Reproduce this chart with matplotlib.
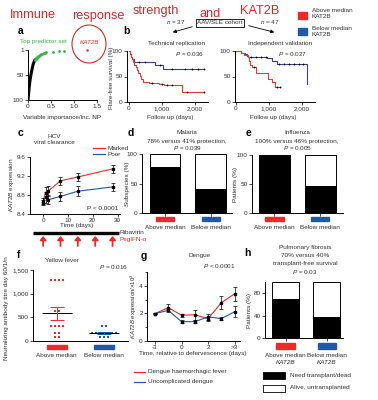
import numpy as np
import matplotlib
matplotlib.use("Agg")
import matplotlib.pyplot as plt
from matplotlib.patches import Rectangle, Ellipse, FancyArrowPatch
from matplotlib.lines import Line2D

plt.rcParams['font.family'] = ['Liberation Sans', 'DejaVu Sans']
plt.rcParams['mathtext.fontset'] = 'custom'
plt.rcParams['mathtext.it'] = 'Liberation Sans:italic'
plt.rcParams['mathtext.rm'] = 'Liberation Sans'

RED = "#ec2a2a"
BLUE = "#2358a8"
KM_RED = "#e53a33"
KM_BLUE = "#3b3f9c"
GREEN = "#35b449"
GREY = "#333333"
FS = 4.6

# ---- data ----
# a: ranked variable importance
a_top_rank = [1]
a_top_imp = [1.29]
a_green_rank = list(range(2, 21))
a_green_imp = [0.78, 0.67, 0.55, 0.40, 0.37, 0.34, 0.31, 0.29, 0.27, 0.25,
               0.24, 0.22, 0.21, 0.20, 0.19, 0.18, 0.17, 0.16, 0.15]
a_black_rank = [21, 25, 30, 38, 47, 60, 75, 90, 100]
a_black_imp = [0.145, 0.13, 0.11, 0.09, 0.07, 0.045, 0.025, 0.01, 0.0]
a_xticks = [0, 0.5, 1.0, 1.5]
a_xlabels = ["0", "0.5", "1.0", "1.5"]

# b: Kaplan-Meier, technical replication
b1_blue_t = [0, 30, 60, 100, 150, 780, 1030, 2280]
b1_blue_s = [100, 94, 89, 84, 78, 72, 65, 65]
b1_blue_cens = [300, 500, 950, 1300, 1700, 1900, 2100, 2280]
b1_red_t = [0, 30, 60, 90, 120, 160, 200, 240, 280, 320, 360, 420, 600, 900,
            1050, 1620, 2280]
b1_red_s = [100, 95, 89, 84, 78, 73, 68, 62, 57, 51, 46, 40, 37, 35, 33, 20, 20]
b1_red_cens = [700, 1000, 1150, 1300, 1750, 2280]
# b: independent validation
b2_blue_t = [0, 150, 280, 330, 380, 950, 1080, 1250, 2150]
b2_blue_s = [100, 97, 94, 91, 88, 86, 80, 74, 35]
b2_blue_cens = [450, 600, 750, 900, 1300, 1450, 1600, 1750, 1900, 2050]
b2_red_t = [0, 150, 250, 350, 400, 430, 480, 600, 980, 1080, 1180, 1330]
b2_red_s = [100, 96, 92, 88, 80, 73, 68, 56, 45, 40, 30, 30]
b2_red_cens = [550, 1250, 1330]
km_xticks = [0, 1000, 2000]
km_xlabels = ["0", "1,000", "2,000"]

# c: HCV
c_days = [0, 1, 2, 7, 14, 28]
c_marked = [8.68, 8.85, 8.88, 9.10, 9.18, 9.35]
c_marked_err = [0.06, 0.12, 0.10, 0.08, 0.08, 0.08]
c_poor = [8.64, 8.75, 8.70, 8.77, 8.88, 8.97]
c_poor_err = [0.06, 0.12, 0.10, 0.10, 0.10, 0.09]
c_dose_days = [0, 7, 14, 21, 28]
c_rbv_span = [-4, 30.5]

# d, e, h: stacked percentages
groups = ["Above median", "Below median"]
d_protected = [78, 41]
e_protected = [100, 46]
h_need = [70, 38]

# f: yellow fever titres
f_above = [1280, 1280, 1280, 1280, 640, 640, 320, 320, 320, 320, 160, 160, 80, 80]
f_below = [320, 320, 160, 160, 160, 160, 160, 160, 160, 80, 80, 80]

# g: dengue
g_cats = ["-3", "-1", "0", "1", "2", "3", ">3"]
g_dhf = [1.98, 2.42, 1.87, 1.90, 1.62, 2.78, 3.42]
g_dhf_err = [0.05, 0.25, 0.10, 0.35, 0.15, 0.45, 0.50]
g_dc = [1.98, 2.22, 1.40, 1.40, 1.75, 1.62, 2.12]
g_dc_err = [0.05, 0.12, 0.10, 0.10, 0.20, 0.10, 0.40]

W, H = 378, 400
fig = plt.figure(figsize=(W / 100, H / 100), dpi=100)


def box(l, t, r, b):
    ax = fig.add_axes([l / W, 1 - b / H, (r - l) / W, (b - t) / H])
    for s in ["top", "right"]:
        ax.spines[s].set_visible(False)
    for s in ["left", "bottom"]:
        ax.spines[s].set_linewidth(0.7)
    ax.tick_params(labelsize=FS, length=2, width=0.6, pad=1, colors=GREY)
    return ax


def txt(x, y, s, **kw):
    kw.setdefault("fontsize", FS)
    kw.setdefault("va", "center")
    kw.setdefault("color", GREY)
    fig.text(x / W, 1 - y / H, s, **kw)


def frect(x0, y0, x1, y1, **kw):
    fig.add_artist(Rectangle((x0 / W, 1 - y1 / H), (x1 - x0) / W, (y1 - y0) / H,
                             transform=fig.transFigure, **kw))


def fline(x0, x1, y, color):
    fig.add_artist(Line2D([x0 / W, x1 / W], [1 - y / H] * 2, color=color, lw=0.9,
                          transform=fig.transFigure))


def letter(x, y, s):
    txt(x, y, s, fontsize=7.5, fontweight="bold", color="black")


# ---- handwritten title ----
for word, x, y in [("Immune", 10, 15), ("response", 72, 16), ("strength", 133, 11),
                   ("and", 200, 14), ("KAT2B", 240, 11)]:
    txt(x, y, word, fontsize=9.2, color="#d42a2a")

# top legend
frect(298, 12, 307, 19, color=RED)
frect(298, 28, 307, 35, color=BLUE)
txt(312, 10, "Above median")
txt(312, 17, "KAT2B")
txt(312, 28, "Below median")
txt(312, 35, "KAT2B")

# ---- a ----
letter(18, 31, "a")
ax = box(28, 50, 97, 100)
ax.plot(a_black_imp, a_black_rank, color="black", lw=2.2, solid_capstyle="round")
ax.plot(a_green_imp, a_green_rank, "o", color=GREEN, ms=2, mew=0, clip_on=False)
ax.plot(a_top_imp, a_top_rank, "o", color=RED, ms=1.8, mew=0, clip_on=False)
ax.set_xlim(0, 1.5)
ax.set_ylim(100, 1)
ax.set_yticks([1, 50, 100])
ax.set_xticks(a_xticks)
ax.set_xticklabels(a_xlabels)
txt(62, 117, "Variable importance/inc. NP", ha="center")
txt(20, 42, "Top predictor set", color=GREEN)
txt(80, 42, "KAT2B", color=RED, style="italic")
fig.add_artist(Ellipse((89 / W, 1 - 44 / H), 34 / W, 38 / H, fill=False, ec="#d42a2a",
                       lw=0.8, transform=fig.transFigure))

# ---- b ----
letter(123, 31, "b")
txt(220, 23, "AAV/SLE cohort", ha="center",
    bbox=dict(boxstyle="square,pad=0.2", fc="white", ec="black", lw=0.6))
txt(166, 22, "$n$ = 37")
txt(260, 22.5, "$n$ = 47")
for a0, a1 in [((195, 26), (170, 33)), ((246, 25), (277, 33))]:
    fig.add_artist(FancyArrowPatch((a0[0] / W, 1 - a0[1] / H), (a1[0] / W, 1 - a1[1] / H),
                                   transform=fig.transFigure, arrowstyle="-|>",
                                   mutation_scale=5, lw=0.6, color="black"))


def km(ax, t, s, color, cens):
    ax.step(t, s, where="post", color=color, lw=0.8)
    idx = np.searchsorted(t, cens, side="right") - 1
    ax.plot(cens, np.array(s)[idx], "o", color="black", ms=1.3, mew=0)


for (l, r, x0), curves, title, pval, cx in [
        ((127, 208, -60), [(b1_blue_t, b1_blue_s, KM_BLUE, b1_blue_cens),
                           (b1_red_t, b1_red_s, KM_RED, b1_red_cens)],
         "Technical replication", "$P$ = 0.036", 177),
        ((235, 315, -30), [(b2_blue_t, b2_blue_s, KM_BLUE, b2_blue_cens),
                           (b2_red_t, b2_red_s, KM_RED, b2_red_cens)],
         "Independent validation", "$P$ = 0.027", 280)]:
    ax = box(l, 51, r, 102)
    for t, s, col, cens in curves:
        km(ax, t, s, col, cens)
    ax.set_xlim(x0, 2400)
    ax.set_ylim(0, 100)
    ax.set_yticks([0, 50, 100])
    ax.set_xticks(km_xticks)
    ax.set_xticklabels(km_xlabels)
    txt(cx, 44, title, ha="center")
    txt(cx + 13, 54, pval, ha="center")
    txt(cx - 7, 118, "Follow up (days)", ha="center")
txt(111, 78, "Flare-free survival (%)", rotation=90, ha="center")

# ---- c ----
letter(18, 133, "c")
txt(54, 136, "HCV", ha="center")
txt(54, 143, "viral clearance", ha="center")
fline(93, 105, 148, RED)
fline(93, 105, 154, BLUE)
txt(107, 148, "Marked")
txt(107, 154, "Poor")
ax = box(30, 157, 120, 214)
for y, e, col in [(c_marked, c_marked_err, RED), (c_poor, c_poor_err, BLUE)]:
    ax.plot(c_days, y, color=col, lw=0.8)
    ax.errorbar(c_days, y, yerr=e, fmt="s", color="black", ms=1.6, elinewidth=0.5,
                capsize=1.2, capthick=0.5)
ax.set_xlim(-5.3, 31)
ax.set_ylim(8.4, 9.6)
ax.set_yticks([8.4, 8.8, 9.2, 9.6])
ax.set_xticks([0, 10, 20, 30])
txt(118, 209, "P < 0.0001", ha="right")
txt(77, 226, "Time (days)", ha="center")
txt(12, 185, "$KAT2B$ expression", rotation=90, ha="center")
axr = fig.add_axes([30 / W, 1 - 246 / H, 90 / W, 16 / H])
axr.set_xlim(-5.3, 31)
axr.set_ylim(0, 1)
axr.axis("off")
axr.hlines(0.81, c_rbv_span[0], c_rbv_span[1], color="black", lw=2.4)
for d in c_dose_days:
    axr.annotate("", xy=(d, 0.62), xytext=(d, 0.0),
                 arrowprops=dict(arrowstyle="-|>,head_width=0.3,head_length=0.35",
                                 color=RED, lw=1.3, mutation_scale=6,
                                 shrinkA=0, shrinkB=0))
txt(120, 233, "Ribavirin")
txt(120, 240, "PegIFN-α", color=RED)


def stacked(ax, vals, xlim, yticks, width):
    x = np.arange(len(vals))
    ax.bar(x, 100, width=width, color="white", edgecolor="black", lw=0.7)
    ax.bar(x, vals, width=width, color="black", edgecolor="black", lw=0.7)
    ax.set_xlim(*xlim)
    ax.set_ylim(0, 100)
    ax.set_yticks(yticks)
    ax.set_xticks(x)
    ax.set_xticklabels([])
    return x


def markers(ax, x, y0, y1, half):
    for xi, col in zip(x, [RED, BLUE]):
        ax.add_patch(Rectangle((xi - half, y1), 2 * half, y0 - y1, color=col,
                               transform=ax.get_xaxis_transform(), clip_on=False))


# ---- d ----
letter(128, 133, "d")
txt(187, 133, "Malaria", ha="center")
txt(187, 141, "78% versus 41% protection,", ha="center")
txt(188, 148, "$P$ = 0.039", ha="center")
ax = box(142, 154, 232, 213)
x = stacked(ax, d_protected, (-0.5, 1.46), [0, 50, 100], 0.67)
markers(ax, x, -0.068, -0.136, 0.2)
for xi, g in zip(x, groups):
    ax.text(xi, -0.24, g, transform=ax.get_xaxis_transform(), ha="center", va="center",
            fontsize=FS, color=GREY)
txt(127, 184, "Subspecies (%)", rotation=90, ha="center")

# ---- e ----
letter(246, 133, "e")
txt(297, 133, "Influenza", ha="center")
txt(297, 141, "100% versus 46% protection,", ha="center")
txt(298, 148, "$P$ = 0.005", ha="center")
ax = box(252, 155, 343, 213)
x = stacked(ax, e_protected, (-0.49, 1.5), [0, 50, 100], 0.68)
markers(ax, x, -0.07, -0.14, 0.2)
for xi, g in zip(x, groups):
    ax.text(xi, -0.25, g, transform=ax.get_xaxis_transform(), ha="center", va="center",
            fontsize=FS, color=GREY)
txt(236, 184, "Patients (%)", rotation=90, ha="center")

# ---- f ----
letter(17, 255, "f")
txt(62, 260, "Yellow fever", ha="center")
txt(128, 267, "$P$ = 0.016", ha="right")
ax = box(33, 270, 128, 341)
for i, (vals, col) in enumerate([(f_above, RED), (f_below, BLUE)], start=1):
    vals = np.array(vals)
    xs = np.zeros(len(vals))
    for v in np.unique(vals):
        m = vals == v
        n = m.sum()
        xs[m] = i + (np.arange(n) - (n - 1) / 2) * 0.085
    ax.plot(xs, vals, "s", color=col, ms=2.0, mew=0, clip_on=False)
    mean = vals.mean()
    sem = vals.std(ddof=1) / np.sqrt(len(vals))
    ax.hlines(mean, i - 0.32, i + 0.32, color="black", lw=0.7)
    ax.errorbar(i, mean, yerr=sem, color=col, capsize=5, lw=0.7, capthick=0.7)
ax.set_xlim(0.5, 2.5)
ax.set_ylim(0, 1500)
ax.set_yticks([0, 500, 1000, 1500])
ax.set_yticklabels(["0", "500", "1,000", "1,500"])
ax.set_xticks([])
markers(ax, [1, 2], -0.056, -0.113, 0.21)
for xi, g in zip([1, 2], groups):
    ax.text(xi, -0.2, g, transform=ax.get_xaxis_transform(), ha="center", va="center",
            fontsize=FS, color=GREY)
txt(7, 308, "Neutralizing antibody titre day 60/1/n", rotation=90, ha="center")

# ---- g ----
letter(141, 256, "g")
txt(200, 255, "Dengue", ha="center")
txt(236, 266, "$P$ < 0.0001", ha="right")
ax = box(147, 272, 240, 341)
gx = np.arange(len(g_cats))
for y, e, col in [(g_dhf, g_dhf_err, RED), (g_dc, g_dc_err, BLUE)]:
    ax.plot(gx, y, color=col, lw=0.8)
    ax.errorbar(gx, y, yerr=e, fmt="s", color="black", ms=1.8, elinewidth=0.5,
                capsize=1.2, capthick=0.5)
ax.set_xlim(-0.6, 6.4)
ax.set_ylim(0, 5)
ax.set_yticks([0, 2, 4])
ax.set_yticks([1, 3, 5], minor=True)
ax.tick_params(which="minor", length=1.5, width=0.5)
ax.set_xticks(gx[::2])
ax.set_xticklabels(g_cats[::2])
txt(193, 354, "Time, relative to defervescence (days)", ha="center")
txt(134, 306, "$KAT2B$ expression/×10$^3$", rotation=90, ha="center", fontsize=4.3)
fline(134, 145, 372, RED)
fline(134, 145, 382, BLUE)
txt(148, 372, "Dengue haemorrhagic fever")
txt(148, 382, "Uncomplicated dengue")

# ---- h ----
letter(244, 253, "h")
txt(305, 247, "Pulmonary fibrosis", ha="center")
txt(305, 255.5, "70% versus 40%", ha="center")
txt(305, 264, "transplant-free survival", ha="center")
txt(305, 272, "$P$ = 0.03", ha="center")
ax = box(265, 282, 343, 338)
x = stacked(ax, h_need, (-0.5, 1.4), [0, 40, 80], 0.66)
markers(ax, x, -0.09, -0.19, 0.22)
for xi, g in zip(x, groups):
    ax.text(xi, -0.31, g, transform=ax.get_xaxis_transform(), ha="center", va="center",
            fontsize=FS, color=GREY)
    ax.text(xi, -0.44, "KAT2B", transform=ax.get_xaxis_transform(), ha="center", va="center",
            fontsize=FS, color=GREY, style="italic")
txt(249, 310, "Patients (%)", rotation=90, ha="center")
frect(263, 372, 285, 379, fc="black", ec="black", lw=0.6)
frect(263, 385, 285, 392, fc="white", ec="black", lw=0.6)
txt(290, 375, "Need transplant/dead")
txt(290, 388, "Alive, untransplanted")

fig.savefig("out.png", dpi=100)
